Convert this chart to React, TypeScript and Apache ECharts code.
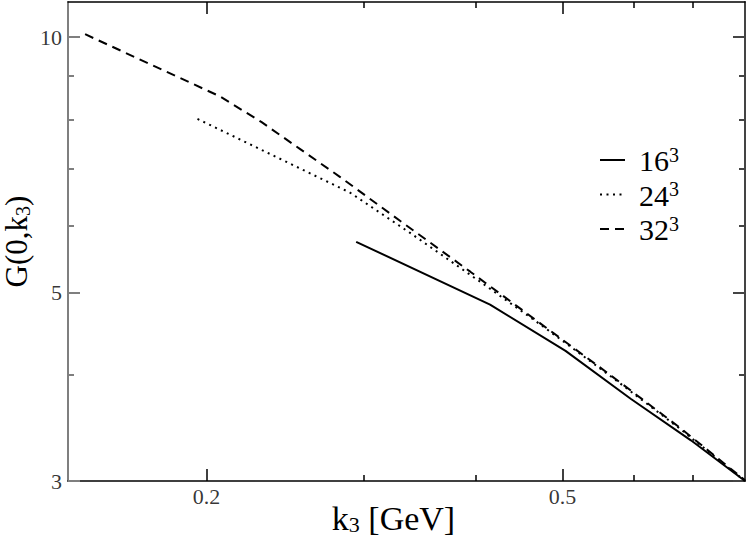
import React, { useEffect, useRef } from "react";
import * as echarts from "echarts";

// ---- data (k3 in GeV, G(0,k3)) ----
const k16 = [0.294, 0.415, 0.504, 0.596, 0.696, 0.8];
const g16 = [5.74, 4.84, 4.27, 3.75, 3.35, 3.0];

const k24 = [0.1954, 0.2893, 0.3378, 0.4046, 0.4726, 0.5663, 0.6781, 0.8];
const g24 = [8.01, 6.56, 5.88, 5.15, 4.585, 3.985, 3.451, 3.0];

const k32 = [0.1463, 0.2068, 0.2305, 0.2543, 0.2819, 0.3291, 0.3944, 0.4726, 0.5663, 0.6781, 0.8];
const g32 = [10.08, 8.52, 7.94, 7.385, 6.846, 6.077, 5.293, 4.598, 3.995, 3.46, 3.006];

const seriesNames = ["16", "24", "32"];

// ---- axes ----
const xRange = [0.14, 0.8];
const yRange = [3, 11];
const xTicks = [0.2, 0.5];
const xTickLabels = ["0.2", "0.5"];
const xMinorTicks = [0.3, 0.4, 0.6, 0.7];
const yTicks = [3, 5, 10];
const yTickLabels = ["3", "5", "10"];
const yMinorTicks = [4, 6, 7, 8, 9];

const L = (v: number) => Math.log10(v);
const FONT = "Liberation Serif";

const lineTypes: any[] = ["solid", [2, 4.5], [9, 6]];

export default function App() {
  const ref = useRef<HTMLDivElement>(null);
  useEffect(() => {
    document.body.style.margin = "0";
    if (!ref.current) return;
    const chart = echarts.init(ref.current, null, { renderer: "svg" });

    const xMin = L(xRange[0]);
    const xMax = L(xRange[1]);
    const yMin = L(yRange[0]);
    const yMax = L(yRange[1]);

    const mkX = (position: string, major: boolean, showLine: boolean, color: string, extra: any = {}) => ({
      type: "value",
      position,
      min: xMin,
      max: xMax,
      splitLine: { show: false },
      nameMoveOverlap: false,
      axisLine: { show: showLine, onZero: false, lineStyle: { color, width: 1.5 } },
      axisTick: {
        show: true,
        inside: true,
        length: major ? 12 : 6,
        customValues: (major ? xTicks : xMinorTicks).map(L),
        lineStyle: { color, width: 1.5 },
      },
      axisLabel: { show: false },
      ...extra,
    });

    const mkY = (position: string, major: boolean, showLine: boolean, color: string, extra: any = {}) => ({
      type: "value",
      position,
      min: yMin,
      max: yMax,
      splitLine: { show: false },
      nameMoveOverlap: false,
      axisLine: { show: showLine, onZero: false, lineStyle: { color, width: 2 } },
      axisTick: {
        show: true,
        inside: true,
        length: major ? 12 : 6,
        customValues: (major ? yTicks : yMinorTicks).map(L),
        lineStyle: { color, width: 2 },
      },
      axisLabel: { show: false },
      ...extra,
    });

    const toData = (ks: number[], gs: number[]) => ks.map((k, i) => [L(k), L(gs[i])]);

    const legendGraphics: any[] = [];
    seriesNames.forEach((n, i) => {
      const y = 160 + i * 34.5;
      legendGraphics.push({
        type: "line",
        shape: { x1: 600, y1: y, x2: 625, y2: y },
        style: {
          stroke: "#000",
          lineWidth: 2,
          lineDash: Array.isArray(lineTypes[i]) ? lineTypes[i] : null,
        },
      });
      legendGraphics.push({
        type: "text",
        x: 639,
        y: y,
        style: {
          text: `{n|${n}}{s|3}`,
          verticalAlign: "middle",
          align: "left",
          rich: {
            n: { fontFamily: FONT, fontSize: 30, lineHeight: 31, fill: "#000", verticalAlign: "bottom" },
            s: { fontFamily: FONT, fontSize: 20, lineHeight: 24, fill: "#000", verticalAlign: "top" },
          },
        },
      });
    });

    const tickLabelText = { fontFamily: FONT, fontSize: 22, color: "#000" };

    const option: any = {
      animation: false,
      backgroundColor: "#fff",
      grid: { left: 68, right: 2, top: 2, bottom: 62, containLabel: false, outerBoundsMode: "none" },
      graphic: legendGraphics,
      xAxis: [
        mkX("bottom", true, true, "#000", {
          name: "{a|k}{b|3}{a| [GeV]}",
          nameLocation: "middle",
          nameGap: 20,
          nameTextStyle: {
            fontFamily: FONT,
            color: "#000",
            padding: [0, 26, 0, 0],
            rich: {
              a: { fontFamily: FONT, fontSize: 34, lineHeight: 34, color: "#000", verticalAlign: "top" },
              b: { fontFamily: FONT, fontSize: 22, lineHeight: 20, color: "#000", verticalAlign: "bottom" },
            },
          },
        }),
        mkX("bottom", false, false, "#000"),
        mkX("top", true, true, "#000"),
        mkX("top", false, false, "#000"),
      ],
      yAxis: [
        mkY("left", true, true, "#7f7f7f", {
          name: "{a|G(0,k}{b|3}{a|)}",
          nameLocation: "middle",
          nameRotate: 90,
          nameGap: 35,
          nameTextStyle: {
            fontFamily: FONT,
            color: "#000",
            rich: {
              a: { fontFamily: FONT, fontSize: 31, lineHeight: 32, color: "#000", verticalAlign: "top" },
              b: { fontFamily: FONT, fontSize: 20, lineHeight: 20, color: "#000", verticalAlign: "bottom" },
            },
          },
        }),
        mkY("left", false, false, "#7f7f7f"),
        mkY("right", true, true, "#444"),
        mkY("right", false, false, "#444"),
      ],
      series: [
        ...seriesNames.map((n, i) => ({
          name: n,
          type: "line",
          data: [toData(k16, g16), toData(k24, g24), toData(k32, g32)][i],
          symbol: "none",
          lineStyle: { color: "#000", width: 2, type: lineTypes[i] },
          itemStyle: { color: "#000" },
          z: 3,
        })),
        {
          name: "xticklabels",
          type: "scatter",
          silent: true,
          clip: false,
          symbolSize: 0,
          data: xTicks.map((t) => [L(t), yMin]),
          label: {
            show: true,
            position: "bottom",
            distance: 4,
            formatter: (p: any) => xTickLabels[p.dataIndex],
            ...tickLabelText,
          },
        },
        {
          name: "yticklabels",
          type: "scatter",
          silent: true,
          clip: false,
          symbolSize: 0,
          data: yTicks.map((t) => [xMin, L(t)]),
          label: {
            show: true,
            position: "left",
            distance: 6,
            formatter: (p: any) => yTickLabels[p.dataIndex],
            ...tickLabelText,
          },
        },
      ],
    };
    chart.setOption(option);
    return () => chart.dispose();
  }, []);
  return <div ref={ref} style={{ width: 747, height: 543 }} />;
}
